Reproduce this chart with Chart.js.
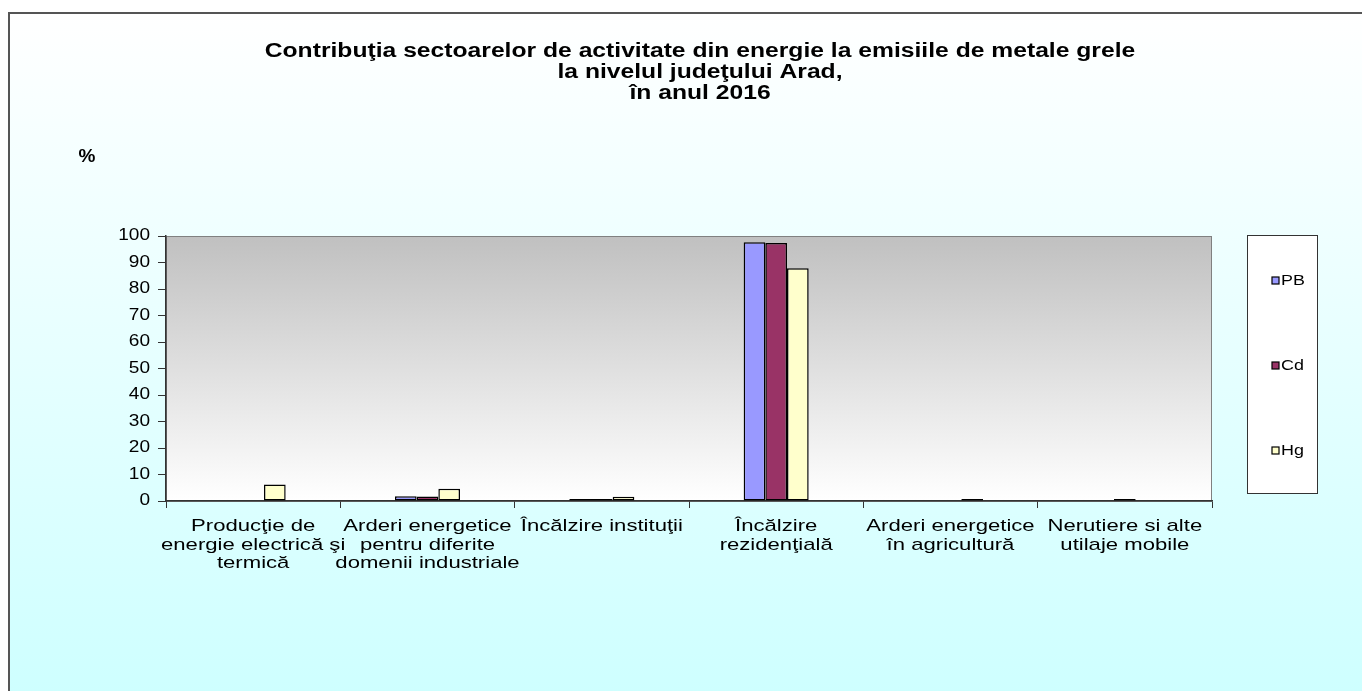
<!DOCTYPE html>
<html>
<head>
<meta charset="utf-8">
<script src="https://cdn.jsdelivr.net/npm/chart.js@4/dist/chart.umd.min.js"></script>
<style>
  html, body { margin: 0; padding: 0; background: #fff; }
  #wrap { width: 1362px; height: 691px; position: relative; }
</style>
</head>
<body>
<div id="wrap"><canvas id="chart" width="1362" height="691"></canvas></div>
<script>
// data
var categories = [
  ["Producţie de", "energie electrică şi", "termică"],
  ["Arderi energetice", "pentru diferite", "domenii industriale"],
  ["Încălzire instituţii"],
  ["Încălzire", "rezidenţială"],
  ["Arderi energetice", "în agricultură"],
  ["Nerutiere si alte", "utilaje mobile"]
];
var seriesNames = ["PB", "Cd", "Hg"];
var pbValues = [0, 1.8, 0.8, 97.6, 0, 0];
var cdValues = [0, 1.7, 0.8, 97.4, 0, 0.8];
var hgValues = [6.2, 4.6, 1.6, 87.8, 0.8, 0];
var yTicks = [0, 10, 20, 30, 40, 50, 60, 70, 80, 90, 100];
var titleLines = [
  "Contribuţia sectoarelor de activitate din energie la emisiile de metale grele",
  "la nivelul judeţului Arad,",
  "în anul 2016"
];
var yUnit = "%";

var colors = ["#9999ff", "#993366", "#ffffcc"];
var fontFamily = "'Liberation Sans', Arial, sans-serif";

// text in the original picture is drawn wider than normal
function stretchedText(c, text, x, y, align, sx) {
  c.save();
  c.translate(x, y);
  c.scale(sx, 1);
  c.textAlign = align;
  c.fillText(text, 0, 0);
  c.restore();
}

document.addEventListener("DOMContentLoaded", function() {
  var ctx = document.getElementById("chart").getContext("2d");

  // background, frame and plot area gradient
  var backgroundPlugin = {
    id: "background",
    beforeDraw: function(chart) {
      var c = chart.ctx;
      var area = chart.chartArea;
      c.save();
      c.fillStyle = "#ffffff";
      c.fillRect(0, 0, chart.width, chart.height);
      var g = c.createLinearGradient(0, 13, 0, 720);
      g.addColorStop(0, "#ffffff");
      g.addColorStop(1, "#ccffff");
      c.fillStyle = g;
      c.fillRect(9, 13, chart.width - 9, chart.height - 13);
      c.strokeStyle = "#555555";
      c.lineWidth = 2;
      c.beginPath();
      c.moveTo(9, chart.height);
      c.lineTo(9, 13);
      c.lineTo(chart.width, 13);
      c.stroke();

      var pg = c.createLinearGradient(0, area.top, 0, area.bottom);
      pg.addColorStop(0, "#c0c0c0");
      pg.addColorStop(1, "#ffffff");
      c.fillStyle = pg;
      c.fillRect(area.left, area.top, area.right - area.left, area.bottom - area.top);
      c.strokeStyle = "#808080";
      c.lineWidth = 1;
      c.strokeRect(area.left + 0.5, area.top + 0.5, area.right - area.left - 1, area.bottom - area.top);
      c.restore();
    }
  };

  // title, unit, tick labels and legend box
  var textPlugin = {
    id: "texts",
    afterDraw: function(chart) {
      var c = chart.ctx;
      var xScale = chart.scales.x;
      var yScale = chart.scales.y;
      c.save();
      c.fillStyle = "#000";
      c.textBaseline = "middle";
      c.font = "bold 19.5px " + fontFamily;
      for (var i = 0; i < titleLines.length; i++) {
        stretchedText(c, titleLines[i], 700, 52 + i * 21, "center", 1.265);
      }
      c.font = "bold 19px " + fontFamily;
      stretchedText(c, yUnit, 87, 157, "center", 1.0);

      // y tick labels
      c.font = "16px " + fontFamily;
      yTicks.forEach(function(v) {
        stretchedText(c, String(v), yScale.right - 16, yScale.getPixelForValue(v), "right", 1.19);
      });

      // category labels
      c.font = "17px " + fontFamily;
      chart.data.labels.forEach(function(lines, idx) {
        var x = xScale.getPixelForValue(idx);
        lines.forEach(function(line, k) {
          stretchedText(c, line, x, xScale.top + 25.5 + k * 18.5, "center", 1.3);
        });
      });

      // legend
      c.fillStyle = "#ffffff";
      c.fillRect(1247, 235, 70, 258);
      c.strokeStyle = "#333";
      c.lineWidth = 1;
      c.strokeRect(1247.5, 235.5, 70, 258);
      c.font = "14px " + fontFamily;
      var ds = chart.data.datasets;
      for (var j = 0; j < ds.length; j++) {
        var y = 281 + j * 85;
        c.fillStyle = ds[j].backgroundColor;
        c.fillRect(1272, y - 4, 7, 7);
        c.strokeStyle = "#000";
        c.lineWidth = 1.2;
        c.strokeRect(1272, y - 4, 7, 7);
        c.fillStyle = "#000";
        stretchedText(c, ds[j].label, 1281, y, "left", 1.28);
      }
      c.restore();
    }
  };

  var allValues = [pbValues, cdValues, hgValues];
  var datasets = seriesNames.map(function(name, i) {
    return {
      label: name,
      data: allValues[i],
      backgroundColor: colors[i],
      borderColor: "#000",
      borderWidth: 1.5,
      borderSkipped: false,
      barPercentage: 1,
      categoryPercentage: 0.373
    };
  });

  new Chart(ctx, {
    type: "bar",
    data: { labels: categories, datasets: datasets },
    plugins: [backgroundPlugin, textPlugin],
    options: {
      responsive: false,
      animation: false,
      layout: { padding: { top: 236, left: 110, right: 150, bottom: 100 } },
      plugins: {
        legend: { display: false },
        title: { display: false },
        tooltip: { enabled: false }
      },
      scales: {
        x: {
          grid: { drawOnChartArea: false, drawTicks: true, tickLength: 7, color: "#333", offset: true },
          border: { color: "#333", width: 1.5 },
          ticks: { display: false, autoSkip: false },
          afterFit: function(scale) { scale.height = 90; }
        },
        y: {
          min: 0,
          max: 100,
          afterBuildTicks: function(scale) {
            scale.ticks = yTicks.map(function(v) { return { value: v }; });
          },
          grid: { drawOnChartArea: false, drawTicks: true, tickLength: 8, color: "#333" },
          border: { color: "#333", width: 1.5 },
          ticks: { display: false },
          afterFit: function(scale) { scale.width = 56; }
        }
      }
    }
  });
});
</script>
</body>
</html>
